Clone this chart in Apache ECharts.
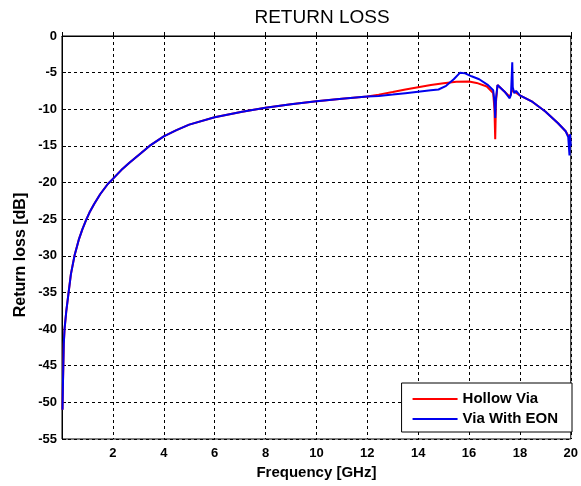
<!DOCTYPE html>
<html>
<head>
<meta charset="utf-8">
<script src="https://cdn.jsdelivr.net/npm/echarts@6/dist/echarts.min.js"></script>
<style>html,body{margin:0;padding:0;background:#fff}#c{width:581px;height:486px}</style>
</head>
<body>
<div id="c"></div>
<script>
// Shared low-frequency part (both curves overlap)
var freqCommon = [0.02,0.04,0.07,0.1,0.17,0.26,0.35,0.49,0.66,0.8,0.95,1.08,1.27,1.5,1.8,2.0,2.33,2.65,3.1,3.44,4.0,4.5,5.0,6.0,7.08,8.0,9.0,10.0,11.0,12.0];
var rlCommon   = [-51,-47,-42,-40,-37.5,-35,-32.5,-30,-27.8,-26.4,-25.1,-24.1,-22.9,-21.6,-20.2,-19.5,-18.3,-17.3,-16.0,-15.0,-13.7,-12.85,-12.1,-11.1,-10.35,-9.8,-9.3,-8.9,-8.55,-8.25];

// Hollow Via (red) above 12 GHz
var freqHollow = [12.45,13.0,13.5,14.0,14.5,15.0,15.5,16.0,16.3,16.7,16.95,17.0,17.03,17.06,17.12,17.4,17.6,17.7,18.0,18.5,19.0,19.5,19.8,20.0];
var rlHollow   = [-8.0,-7.65,-7.3,-7.0,-6.7,-6.45,-6.25,-6.2,-6.4,-6.9,-7.8,-10,-14.1,-9,-6.7,-7.6,-8.3,-7.4,-8.1,-9.0,-10.3,-11.9,-13.0,-14.2];

// Via With EON (blue) above 12 GHz
var freqEON = [12.45,13.0,13.5,14.0,14.5,14.8,15.1,15.4,15.65,15.85,16.1,16.4,16.75,16.95,17.0,17.03,17.06,17.12,17.4,17.6,17.65,17.7,17.72,17.78,17.85,18.0,18.5,19.0,19.5,19.8,19.9,19.95,19.97,20.0];
var rlEON   = [-8.2,-8.0,-7.8,-7.6,-7.4,-7.3,-6.8,-5.9,-5.0,-5.1,-5.5,-5.9,-6.7,-7.4,-9,-11.2,-8.5,-6.7,-7.6,-8.5,-8.0,-3.6,-7.0,-7.8,-7.5,-8.1,-9.0,-10.3,-11.9,-13.0,-13.8,-16.3,-13.4,-15.0];

var xTicks = {min:0, max:20, interval:2};
var yTicks = {min:-55, max:0, interval:5};

function pairs(fx, fy, gx, gy) {
  var out = [];
  for (var i = 0; i < fx.length; i++) out.push([fx[i], fy[i]]);
  for (var j = 0; j < gx.length; j++) out.push([gx[j], gy[j]]);
  return out;
}

var chart = echarts.init(document.getElementById('c'), null, {renderer:'canvas'});
var font = 'Liberation Sans, Arial, sans-serif';
var dashed = {show:true, lineStyle:{color:'#000', type:[3,3], width:1}};
chart.setOption({
  animation:false,
  backgroundColor:'#fff',
  title:{text:'RETURN LOSS', left:317, textAlign:'center', top:3,
    textStyle:{fontFamily:font, fontSize:19, fontWeight:'normal', color:'#000'}},
  grid:{left:62, right:7, top:36, bottom:47, show:true, borderColor:'#000', borderWidth:1},
  legend:{
    orient:'vertical', right:9, bottom:54,
    data:['Hollow Via','Via With EON'],
    icon:'rect', itemWidth:45, itemHeight:2, itemGap:4,
    backgroundColor:'#fff', borderColor:'#000', borderWidth:1, borderRadius:0,
    padding:[8,14,5,11],
    textStyle:{fontFamily:font, fontSize:15, lineHeight:16, fontWeight:'bold', color:'#000'}
  },
  xAxis:{type:'value', min:xTicks.min, max:xTicks.max, interval:xTicks.interval,
    name:'Frequency [GHz]', nameLocation:'middle', nameGap:26,
    nameTextStyle:{fontFamily:font, fontSize:15, fontWeight:'bold', color:'#000'},
    axisLine:{lineStyle:{color:'#000'}}, axisTick:{inside:true, length:4, lineStyle:{color:'#000'}},
    axisLabel:{fontFamily:font, fontSize:13, fontWeight:'bold', color:'#000', margin:8,
      formatter:function(v){return v===0?'':v;}},
    splitLine:dashed},
  yAxis:{type:'value', min:yTicks.min, max:yTicks.max, interval:yTicks.interval,
    axisLine:{show:true, lineStyle:{color:'#000'}}, axisTick:{show:true, inside:true, length:4, lineStyle:{color:'#000'}},
    axisLabel:{fontFamily:font, fontSize:13, fontWeight:'bold', color:'#000', margin:5},
    splitLine:dashed},
  graphic:[{type:'text', x:21, y:255, rotation:Math.PI/2,
    style:{text:'Return loss [dB]', fontFamily:font, fontSize:16, fontWeight:'bold', fill:'#000',
      textAlign:'center', textVerticalAlign:'middle'}}],
  series:[
    {name:'Hollow Via', type:'line', showSymbol:false, color:'#ff0000',
      lineStyle:{width:2, color:'#ff0000'}, data:pairs(freqCommon, rlCommon, freqHollow, rlHollow), z:2},
    {name:'Via With EON', type:'line', showSymbol:false, color:'#0000ee',
      lineStyle:{width:2, color:'#0000ee'}, data:pairs(freqCommon, rlCommon, freqEON, rlEON), z:3}
  ]
});
</script>
</body>
</html>
